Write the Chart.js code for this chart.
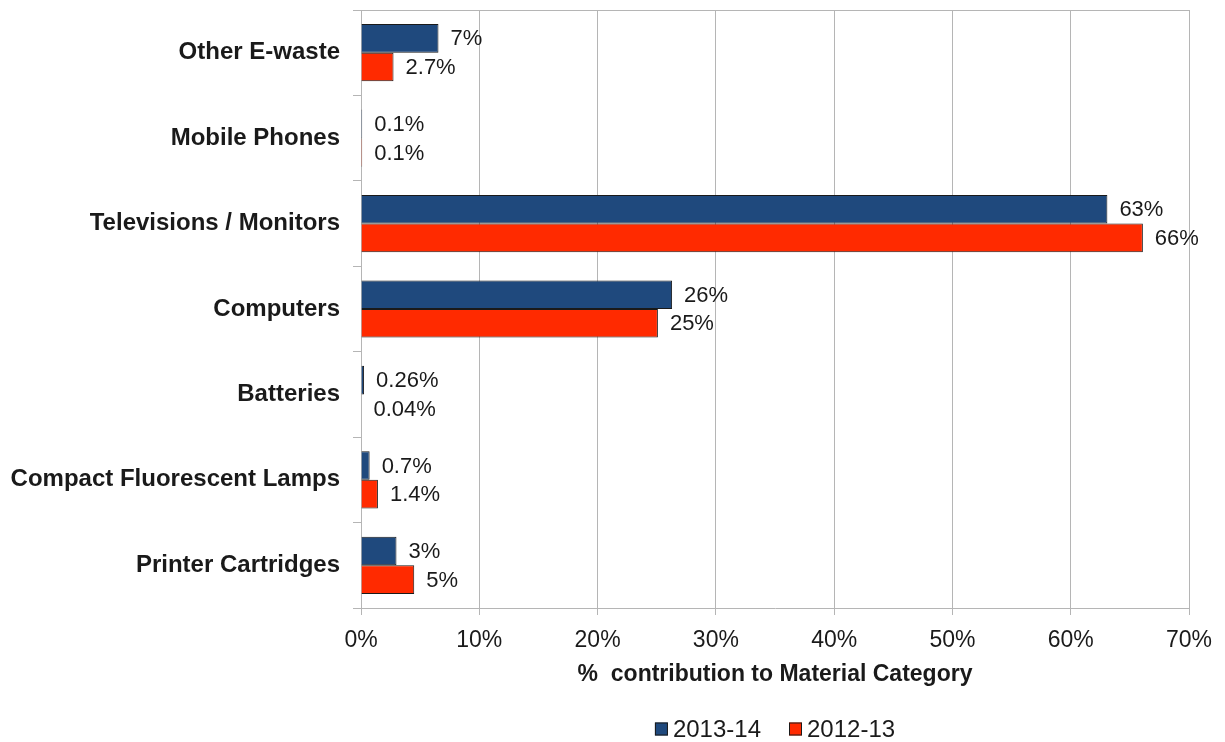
<!DOCTYPE html>
<html>
<head>
<meta charset="utf-8">
<script src="https://cdn.jsdelivr.net/npm/chart.js@4"></script>
<style>
    body { margin: 0; background: #fff; }
    #wrap { width: 1225px; height: 742px; position: relative; }
</style>
</head>
<body>
<div id="wrap"><canvas id="chartEwaste"></canvas></div>
<script>
// categories, top to bottom
let categories = ['Other E-waste', 'Mobile Phones', 'Televisions / Monitors', 'Computers', 'Batteries', 'Compact Fluorescent Lamps', 'Printer Cartridges']
let seriesNames = ['2013-14', '2012-13']
let seriesColors = ['#1f497d', '#ff2a00']
let values1314 = [6.55, 0.1, 63.1, 26.3, 0.26, 0.73, 3.0]
let values1213 = [2.75, 0.1, 66.1, 25.1, 0.04, 1.43, 4.5]
let labels1314 = ['7%', '0.1%', '63%', '26%', '0.26%', '0.7%', '3%']
let labels1213 = ['2.7%', '0.1%', '66%', '25%', '0.04%', '1.4%', '5%']
let xTicks = [0, 10, 20, 30, 40, 50, 60, 70]

let font = '"Liberation Sans", Arial, sans-serif'
let gridColor = '#b5b5b5'
let textColor = '#1a1a1a'

// value labels to the right of each bar
let barLabels = {
    id: 'barLabels',
    afterDatasetsDraw(chart) {
        let ctx = chart.ctx
        let texts = [labels1314, labels1213]
        ctx.save()
        ctx.font = '22px ' + font
        ctx.fillStyle = textColor
        ctx.textBaseline = 'middle'
        ctx.textAlign = 'left'
        chart.data.datasets.forEach(function(ds, i) {
            chart.getDatasetMeta(i).data.forEach(function(bar, j) {
                ctx.fillText(texts[i][j], bar.x + 12, bar.y + 1)
            })
        })
        ctx.restore()
    }
}

// top edge of the plot area
let topBorder = {
    id: 'topBorder',
    beforeDatasetsDraw(chart) {
        let a = chart.chartArea
        let ctx = chart.ctx
        ctx.save()
        ctx.strokeStyle = gridColor
        ctx.lineWidth = 1
        ctx.beginPath()
        ctx.moveTo(a.left, a.top + 0.5)
        ctx.lineTo(a.right, a.top + 0.5)
        ctx.stroke()
        ctx.restore()
    }
}

// legend under the axis title, centred on the plot
let bottomLegend = {
    id: 'bottomLegend',
    afterDraw(chart) {
        let ctx = chart.ctx
        let a = chart.chartArea
        let box = 13
        let gap = 5
        let itemGap = 28
        ctx.save()
        ctx.font = '24px ' + font
        let widths = seriesNames.map(n => ctx.measureText(n).width)
        let total = widths.reduce((s, w) => s + box + gap + w, 0) + itemGap * (seriesNames.length - 1)
        let x = (a.left + a.right) / 2 - total / 2
        let y = 729
        seriesNames.forEach(function(name, i) {
            ctx.fillStyle = seriesColors[i]
            ctx.fillRect(x, y - box / 2, box, box)
            ctx.strokeStyle = textColor
            ctx.lineWidth = 1
            ctx.strokeRect(x + 0.5, y - box / 2 + 0.5, box - 1, box - 1)
            ctx.fillStyle = textColor
            ctx.textBaseline = 'middle'
            ctx.fillText(name, x + box + gap, y + 1)
            x += box + gap + widths[i] + itemGap
        })
        ctx.restore()
    }
}

var ctx = document.getElementById('chartEwaste').getContext('2d')
var chart = new Chart(ctx, {
    type: 'bar',
    data: {
        labels: categories,
        datasets: [{
            label: seriesNames[0],
            data: values1314,
            backgroundColor: seriesColors[0],
            borderColor: textColor,
            borderWidth: 1,
            barPercentage: 1,
            categoryPercentage: 0.67
        }, {
            label: seriesNames[1],
            data: values1213,
            backgroundColor: seriesColors[1],
            borderColor: textColor,
            borderWidth: 1,
            barPercentage: 1,
            categoryPercentage: 0.67
        }]
    },
    options: {
        indexAxis: 'y',
        responsive: true,
        maintainAspectRatio: false,
        animation: false,
        layout: {
            padding: { top: 10, right: 36, left: 0, bottom: 50 }
        },
        scales: {
            x: {
                min: 0,
                max: 70,
                afterBuildTicks: function(axis) {
                    axis.ticks = xTicks.map(v => ({ value: v }))
                },
                afterFit: function(axis) {
                    axis.height = 84
                },
                grid: {
                    color: gridColor,
                    tickLength: 7
                },
                border: { color: gridColor },
                ticks: {
                    padding: 12,
                    color: textColor,
                    font: { family: font, size: 23 },
                    callback: v => v + '%'
                },
                title: {
                    display: true,
                    text: '%  contribution to Material Category',
                    color: textColor,
                    font: { family: font, size: 23, weight: 'bold' },
                    padding: { top: 4, bottom: 4 }
                }
            },
            y: {
                afterFit: function(axis) {
                    axis.width = 361
                    axis.paddingTop = 0
                    axis.paddingBottom = 0
                },
                grid: {
                    drawOnChartArea: false,
                    color: gridColor,
                    tickLength: 8
                },
                border: { color: gridColor },
                ticks: {
                    padding: 13,
                    color: textColor,
                    font: { family: font, size: 24, weight: 'bold' }
                }
            }
        },
        plugins: {
            legend: { display: false },
            tooltip: { enabled: false }
        }
    },
    plugins: [barLabels, topBorder, bottomLegend]
})
</script>
</body>
</html>
